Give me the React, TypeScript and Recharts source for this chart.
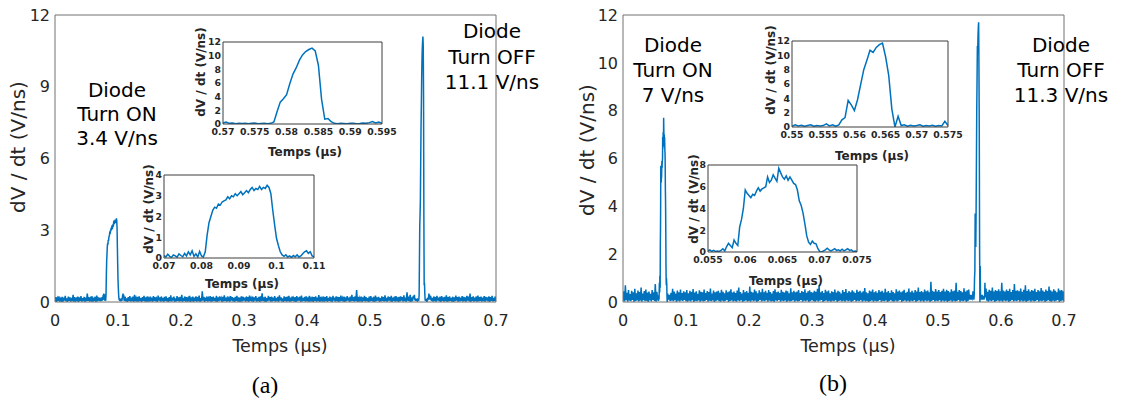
import React from "react";
import { LineChart, Line, XAxis, YAxis } from "recharts";

const BLUE = "#0072BD";
const TEXT = "#262626";

// main traces: noise floor sampled every 1.25 ns (µs units)
const MAIN_STEP = 0.00125;

const NOISE_A = [
  0.03, 0.2, 0.01, 0.16, 0.05, 0.24, 0.02, 0.13, 0.04, 0.21, 0.0, 0.18, 0.06, 0.26, 0.03, 0.15, 0.01, 0.22, 0.05, 0.19,
  0.02, 0.17, 0.04, 0.3, 0.01, 0.2, 0.06, 0.14, 0.03, 0.23, 0.0, 0.19, 0.05, 0.25, 0.02, 0.16, 0.04, 0.21, 0.01, 0.18,
  0.03, 0.35, 0.05, 0.2, 0.02, 0.15, 0.06, 0.24, 0.01, 0.18, 0.04, 0.22, 0.0, 0.27, 0.03, 0.16, 0.05, 0.2, 0.02, 0.23,
  0.04, 0.19, 0.01, 0.25, 0.03, 0.17, 0.05, 0.21, 0.02, 0.14, 0.04, 0.26, 0.0, 0.2, 0.06, 0.18, 0.03, 0.22, 0.01, 0.24,
  0.05, 0.16, 0.02, 0.21, 0.04, 0.27, 0.01, 0.19, 0.06, 0.23, 0.03, 0.15, 0.0, 0.2, 0.05, 0.25, 0.02, 0.18, 0.04, 0.22,
  0.01, 0.3, 0.03, 0.17, 0.06, 0.21, 0.02, 0.24, 0.04, 0.16, 0.0, 0.2, 0.05, 0.26, 0.03, 0.19, 0.01, 0.23, 0.06, 0.15,
  0.02, 0.22, 0.04, 0.18, 0.01, 0.25, 0.05, 0.2, 0.03, 0.14, 0.0, 0.27, 0.06, 0.19, 0.02, 0.23, 0.04, 0.17, 0.01, 0.21,
  0.05, 0.24, 0.03, 0.16, 0.0, 0.2, 0.04, 0.28, 0.02, 0.18, 0.06, 0.22, 0.01, 0.15, 0.03, 0.25, 0.05, 0.19, 0.02, 0.21,
  0.04, 0.3, 0.01, 0.17, 0.05, 0.23, 0.02, 0.2, 0.06, 0.16, 0.03, 0.26, 0.0, 0.19, 0.04, 0.22, 0.01, 0.18, 0.05, 0.24,
  0.02, 0.2, 0.04, 0.27, 0.01, 0.16, 0.03, 0.45, 0.06, 0.21, 0.0, 0.18, 0.05, 0.23, 0.02, 0.15, 0.04, 0.25, 0.01, 0.2,
  0.03, 0.22, 0.05, 0.17, 0.02, 0.26, 0.0, 0.19, 0.04, 0.24, 0.06, 0.16, 0.01, 0.21, 0.03, 0.28, 0.05, 0.18, 0.02, 0.23,
  0.04, 0.15, 0.01, 0.25, 0.06, 0.2, 0.03, 0.17, 0.0, 0.22, 0.05, 0.26, 0.02, 0.19, 0.04, 0.14, 0.01, 0.24, 0.03, 0.21,
  0.06, 0.18, 0.02, 0.23, 0.04, 0.2, 0.0, 0.27, 0.05, 0.16, 0.03, 0.22, 0.01, 0.19, 0.06, 0.25, 0.02, 0.17, 0.04, 0.21,
  0.01, 0.24, 0.03, 0.36, 0.05, 0.19, 0.02, 0.22, 0.0, 0.16, 0.04, 0.26, 0.06, 0.2, 0.01, 0.23, 0.03, 0.18, 0.05, 0.25,
  0.02, 0.17, 0.04, 0.21, 0.01, 0.28, 0.06, 0.19, 0.03, 0.15, 0.0, 0.24, 0.05, 0.2, 0.02, 0.22, 0.04, 0.26, 0.01, 0.18,
  0.03, 0.23, 0.05, 0.16, 0.02, 0.2, 0.0, 0.25, 0.04, 0.19, 0.06, 0.22, 0.01, 0.27, 0.03, 0.17, 0.05, 0.21, 0.02, 0.24,
  0.04, 0.19, 0.01, 0.26, 0.06, 0.15, 0.03, 0.22, 0.0, 0.2, 0.05, 0.24, 0.02, 0.18, 0.04, 0.29, 0.01, 0.21, 0.03, 0.16,
  0.06, 0.23, 0.02, 0.2, 0.04, 0.25, 0.01, 0.17, 0.05, 0.22, 0.03, 0.19, 0.0, 0.26, 0.06, 0.18, 0.02, 0.24, 0.04, 0.21,
  0.01, 0.2, 0.03, 0.27, 0.05, 0.16, 0.02, 0.23, 0.0, 0.19, 0.04, 0.25, 0.06, 0.18, 0.01, 0.22, 0.03, 0.3, 0.05, 0.2,
  0.02, 0.24, 0.04, 0.5, 0.01, 0.21, 0.06, 0.17, 0.03, 0.23, 0.0, 0.19, 0.05, 0.26, 0.02, 0.2, 0.04, 0.16, 0.01, 0.22,
  0.03, 0.25, 0.05, 0.18, 0.02, 0.22, 0.0, 0.27, 0.04, 0.19, 0.06, 0.21, 0.01, 0.16, 0.03, 0.24, 0.05, 0.2, 0.02, 0.28,
  0.04, 0.17, 0.01, 0.23, 0.06, 0.2, 0.03, 0.26, 0.0, 0.18, 0.05, 0.22, 0.02, 0.25, 0.04, 0.19, 0.01, 0.21, 0.03, 0.24,
  0.06, 0.2, 0.02, 0.28, 0.04, 0.18, 0.01, 0.4, 0.05, 0.22, 0.03, 0.3, 0.0, 0.19, 0.04, 0.26, 0.02, 0.21, 0.06, 0.23,
  0.01, 0.25, 0.03, 0.19, 0.05, 0.22, 0.02, 0.27, 0.0, 0.2, 0.04, 0.18, 0.06, 0.24, 0.01, 0.21, 0.03, 0.26, 0.05, 0.17,
  0.02, 0.23, 0.04, 0.2, 0.01, 0.26, 0.06, 0.18, 0.03, 0.22, 0.0, 0.25, 0.05, 0.19, 0.02, 0.21, 0.04, 0.28, 0.01, 0.2,
  0.03, 0.24, 0.05, 0.17, 0.02, 0.22, 0.0, 0.19, 0.04, 0.27, 0.06, 0.2, 0.01, 0.23, 0.03, 0.18, 0.05, 0.25, 0.02, 0.21,
  0.04, 0.19, 0.01, 0.26, 0.06, 0.22, 0.03, 0.35, 0.0, 0.2, 0.05, 0.24, 0.02, 0.18, 0.04, 0.23, 0.01, 0.27, 0.03, 0.2,
  0.05, 0.22, 0.02, 0.18, 0.04, 0.25, 0.01, 0.21, 0.06, 0.19, 0.03, 0.24, 0.0, 0.2, 0.05, 0.26, 0.02, 0.17, 0.04, 0.23,
  0.03,
];

const NOISE_B = [
  0.05, 0.45, 0.02, 0.7, 0.08, 0.38, 0.01, 0.5, 0.06, 0.33, 0.03, 0.47, 0.09, 0.4, 0.0, 0.55, 0.04, 0.36, 0.07, 0.48,
  0.02, 0.42, 0.06, 0.6, 0.01, 0.35, 0.08, 0.46, 0.03, 0.52, 0.05, 0.39, 0.0, 0.44, 0.07, 0.34, 0.02, 0.5, 0.09, 0.41,
  0.04, 0.75, 0.01, 0.43, 0.06, 0.37, 0.03, 0.49, 0.08, 0.4, 0.0, 0.53, 0.05, 0.36, 0.02, 0.46, 0.07, 0.42, 0.04, 0.5,
  0.01, 0.38, 0.06, 0.55, 0.03, 0.44, 0.08, 0.35, 0.0, 0.48, 0.05, 0.41, 0.02, 0.52, 0.07, 0.37, 0.04, 0.45, 0.09, 0.4,
  0.03, 0.5, 0.01, 0.36, 0.06, 0.47, 0.02, 0.42, 0.08, 0.54, 0.0, 0.39, 0.05, 0.45, 0.03, 0.34, 0.07, 0.49, 0.01, 0.43,
  0.06, 0.4, 0.02, 0.52, 0.04, 0.37, 0.09, 0.46, 0.01, 0.42, 0.05, 0.56, 0.03, 0.35, 0.07, 0.48, 0.0, 0.41, 0.04, 0.44,
  0.08, 0.47, 0.03, 0.38, 0.01, 0.51, 0.06, 0.43, 0.02, 0.36, 0.05, 0.49, 0.09, 0.4, 0.0, 0.45, 0.04, 0.53, 0.07, 0.39,
  0.02, 0.44, 0.05, 0.37, 0.01, 0.48, 0.06, 0.6, 0.03, 0.42, 0.08, 0.35, 0.0, 0.5, 0.04, 0.41, 0.07, 0.46, 0.02, 0.38,
  0.05, 0.65, 0.01, 0.43, 0.07, 0.39, 0.03, 0.52, 0.06, 0.45, 0.0, 0.36, 0.04, 0.49, 0.09, 0.41, 0.02, 0.55, 0.05, 0.4,
  0.03, 0.47, 0.08, 0.38, 0.01, 0.5, 0.06, 0.42, 0.02, 0.35, 0.05, 0.46, 0.0, 0.53, 0.07, 0.4, 0.04, 0.44, 0.09, 0.37,
  0.01, 0.51, 0.05, 0.43, 0.03, 0.39, 0.07, 0.48, 0.0, 0.45, 0.06, 0.36, 0.02, 0.57, 0.04, 0.41, 0.08, 0.47, 0.01, 0.4,
  0.06, 0.44, 0.02, 0.5, 0.04, 0.37, 0.09, 0.46, 0.01, 0.42, 0.05, 0.53, 0.03, 0.38, 0.07, 0.45, 0.0, 0.49, 0.04, 0.41,
  0.08, 0.39, 0.03, 0.47, 0.01, 0.43, 0.06, 0.55, 0.02, 0.7, 0.05, 0.4, 0.09, 0.46, 0.0, 0.37, 0.04, 0.51, 0.07, 0.44,
  0.02, 0.48, 0.05, 0.36, 0.01, 0.45, 0.06, 0.41, 0.03, 0.52, 0.08, 0.39, 0.0, 0.47, 0.04, 0.43, 0.07, 0.35, 0.02, 0.5,
  0.05, 0.42, 0.01, 0.54, 0.07, 0.38, 0.03, 0.46, 0.06, 0.4, 0.0, 0.49, 0.04, 0.44, 0.09, 0.37, 0.02, 0.51, 0.05, 0.43,
  0.03, 0.47, 0.08, 0.39, 0.01, 0.45, 0.06, 0.58, 0.02, 0.41, 0.05, 0.36, 0.0, 0.48, 0.04, 0.44, 0.07, 0.52, 0.01, 0.4,
  0.06, 0.45, 0.02, 0.38, 0.04, 0.5, 0.09, 0.43, 0.01, 0.47, 0.05, 0.39, 0.03, 0.55, 0.07, 0.41, 0.0, 0.46, 0.04, 0.37,
  0.08, 0.49, 0.03, 0.42, 0.01, 0.36, 0.06, 0.53, 0.02, 0.44, 0.05, 0.48, 0.09, 0.4, 0.0, 0.45, 0.04, 0.51, 0.07, 0.38,
  0.02, 0.43, 0.05, 0.56, 0.01, 0.41, 0.06, 0.47, 0.03, 0.39, 0.08, 0.5, 0.0, 0.44, 0.04, 0.6, 0.07, 0.42, 0.02, 0.46,
  0.05, 0.4, 0.01, 0.52, 0.07, 0.45, 0.03, 0.48, 0.06, 0.41, 0.0, 0.85, 0.04, 0.47, 0.09, 0.43, 0.02, 0.54, 0.05, 0.44,
  0.03, 0.5, 0.08, 0.42, 0.01, 0.47, 0.06, 0.55, 0.02, 0.44, 0.05, 0.51, 0.0, 0.46, 0.04, 0.4, 0.07, 0.53, 0.01, 0.45,
  0.06, 0.48, 0.02, 0.8, 0.04, 0.43, 0.09, 0.5, 0.01, 0.46, 0.05, 0.41, 0.03, 0.57, 0.07, 0.44, 0.0, 0.49, 0.04, 0.52,
  0.08, 0.45, 0.03, 0.5, 0.01, 0.42, 0.06, 0.55, 0.02, 0.47, 0.05, 0.4, 0.09, 0.52, 0.0, 0.44, 0.04, 0.49, 0.07, 0.46,
  0.02, 0.56, 0.05, 0.43, 0.01, 0.51, 0.06, 0.47, 0.03, 0.6, 0.08, 0.44, 0.0, 0.5, 0.04, 0.46, 0.07, 0.53, 0.02, 0.45,
  0.05, 0.8, 0.01, 0.48, 0.07, 0.44, 0.03, 0.52, 0.06, 0.46, 0.0, 0.55, 0.04, 0.42, 0.09, 0.5, 0.02, 0.75, 0.05, 0.47,
  0.03, 0.49, 0.08, 0.45, 0.01, 0.56, 0.06, 0.43, 0.02, 0.51, 0.05, 0.7, 0.0, 0.46, 0.04, 0.53, 0.07, 0.44, 0.01, 0.5,
  0.06, 0.47, 0.02, 0.55, 0.04, 0.42, 0.09, 0.5, 0.01, 0.45, 0.05, 0.58, 0.03, 0.48, 0.07, 0.43, 0.0, 0.52, 0.04, 0.46,
  0.08, 0.65, 0.03, 0.49, 0.01, 0.44, 0.06, 0.53, 0.02, 0.47, 0.05, 0.41, 0.09, 0.56, 0.0, 0.48, 0.04, 0.5, 0.07, 0.45,
  0.03,
];

// (a) turn ON, 0.07 -> 0.11 µs
const ON_A_START = 0.07;
const ON_A_STEP = 0.0005;
const ON_A = [
  0.12, 0.05, 0.18, 0.08, 0.03, 0.15, 0.1, 0.04, 0.2, 0.12, 0.06, 0.22, 0.1, 0.3, 0.15, 0.35, 0.08, 0.2, 0.05, 0.32,
  0.1, 0.05, 0.3, 1.1, 1.7, 2.0, 2.3, 2.45, 2.4, 2.6, 2.55, 2.7, 2.75, 2.8, 2.95, 2.85, 3.0, 2.95, 3.1, 3.0,
  3.1, 3.2, 3.05, 3.15, 3.25, 3.15, 3.3, 3.4, 3.25, 3.35, 3.3, 3.45, 3.3, 3.4, 3.35, 3.5, 3.4, 3.1, 2.3, 1.6,
  0.95, 0.6, 0.3, 0.15, 0.08, 0.15, 0.05, 0.1, 0.03, 0.12, 0.06, 0.15, 0.05, 0.1, 0.2, 0.3, 0.35, 0.22, 0.3, 0.1,
  0.05,
];

// (a) turn OFF, 0.57 -> 0.595 µs
const OFF_A_START = 0.57;
const OFF_A_STEP = 0.0005;
const OFF_A = [
  0.15, 0.3, 0.1, 0.15, 0.05, 0.1, 0.08, 0.12, 0.05, 0.1, 0.15, 0.05, 0.08, 0.12, 0.05, 0.1, 0.3, 1.8, 3.2, 3.7,
  4.3, 5.9, 7.3, 8.2, 9.3, 10.1, 10.6, 10.9, 11.1, 10.7, 8.6, 3.6, 0.7, 0.8, 0.35, 0.1, 0.05, 0.12, 0.08, 0.05,
  0.1, 0.12, 0.05, 0.08, 0.15, 0.1, 0.2, 0.35, 0.15, 0.3, 0.1,
];

// (b) turn ON, 0.055 -> 0.075 µs
const ON_B_START = 0.055;
const ON_B_STEP = 0.00025;
const ON_B = [
  0.1, 0.2, 0.05, 0.15, 0.05, 0.1, 0.05, 0.15, 0.3, 0.1, 0.5, 0.8, 0.6, 0.4, 1.1, 0.8, 0.6, 2.3, 3.0, 4.0,
  5.7, 5.4, 5.2, 5.0, 5.3, 5.2, 5.6, 5.9, 5.6, 5.8, 5.9, 6.0, 6.9, 6.4, 6.6, 7.1, 6.8, 6.5, 7.7, 7.3,
  6.9, 6.7, 7.0, 6.6, 6.9, 6.6, 6.3, 6.2, 5.7, 4.7, 4.3, 3.6, 2.6, 1.5, 0.9, 0.7, 1.0, 0.8, 0.75, 0.3,
  0.05, 0.0, 0.1, 0.2, 0.35, 0.2, 0.1, 0.2, 0.3, 0.15, 0.2, 0.1, 0.25, 0.1, 0.2, 0.3, 0.15, 0.2, 0.05, 0.1,
  0.05,
];

// (b) turn OFF, 0.55 -> 0.575 µs
const OFF_B_START = 0.55;
const OFF_B_STEP = 0.0005;
const OFF_B = [
  0.1, 0.3, 0.15, 0.25, 0.1, 0.2, 0.3, 0.1, 0.2, 0.15, 0.2, 0.45, 0.15, 0.3, 0.1, 0.3, 1.0, 1.3, 3.7, 3.1,
  2.3, 3.8, 5.9, 8.0, 9.3, 10.7, 10.4, 11.1, 11.5, 11.7, 9.8, 7.2, 2.5, 0.0, 1.5, 0.2, 0.3, 0.1, 0.25, 0.15,
  0.2, 0.3, 0.1, 0.2, 0.15, 0.25, 0.1, 0.2, 0.15, 0.8, 0.2,
];

const X_TICKS_MAIN = [0, 0.1, 0.2, 0.3, 0.4, 0.5, 0.6, 0.7];
const Y_TICKS_A = [0, 3, 6, 9, 12];
const Y_TICKS_B = [0, 2, 4, 6, 8, 10, 12];
const X_TICKS_ON_A = [0.07, 0.08, 0.09, 0.1, 0.11];
const Y_TICKS_ON_A = [0, 1, 2, 3, 4];
const X_TICKS_OFF_A = [0.57, 0.575, 0.58, 0.585, 0.59, 0.595];
const X_TICKS_ON_B = [0.055, 0.06, 0.065, 0.07, 0.075];
const Y_TICKS_ON_B = [0, 2, 4, 6, 8];
const X_TICKS_OFF_B = [0.55, 0.555, 0.56, 0.565, 0.57, 0.575];
const Y_TICKS_OFF = [0, 2, 4, 6, 8, 10, 12];

const NOTE_A_ON = ["Diode", "Turn ON", "3.4 V/ns"];
const NOTE_A_OFF = ["Diode", "Turn OFF", "11.1 V/ns"];
const NOTE_B_ON = ["Diode", "Turn ON", "7 V/ns"];
const NOTE_B_OFF = ["Diode", "Turn OFF", "11.3 V/ns"];

type Pt = { t: number; v: number };

const sampled = (start: number, step: number, values: number[]): Pt[] =>
  values.map((v, i) => ({ t: +(start + i * step).toFixed(6), v }));

// noise floor everywhere, except where the zoomed captures give the detail
const mainTrace = (noise: number[], zooms: Pt[][]): Pt[] => {
  const floor = sampled(0, MAIN_STEP, noise).filter(
    (p) => !zooms.some((z) => p.t >= z[0].t && p.t <= z[z.length - 1].t)
  );
  return [...floor, ...zooms.flat()].sort((a, b) => a.t - b.t);
};

const onA = sampled(ON_A_START, ON_A_STEP, ON_A);
const offA = sampled(OFF_A_START, OFF_A_STEP, OFF_A);
const onB = sampled(ON_B_START, ON_B_STEP, ON_B);
const offB = sampled(OFF_B_START, OFF_B_STEP, OFF_B);
const mainA = mainTrace(NOISE_A, [onA, offA]);
const mainB = mainTrace(NOISE_B, [onB, offB]);

type PlotProps = {
  left: number;
  top: number;
  width: number;
  height: number;
  data: Pt[];
  xTicks: number[];
  yTicks: number[];
  inset?: boolean;
};

function Plot({ left, top, width, height, data, xTicks, yTicks, inset }: PlotProps) {
  const padL = inset ? 22 : 45;
  const padB = inset ? 16 : 32;
  const padT = 10;
  const padR = 18;
  const box = inset ? "#3c3c3c" : "#707070";
  const tickLen = inset ? 3 : 5;
  const tick = {
    fill: TEXT,
    fontSize: inset ? 9.3 : 16,
    fontFamily: "DejaVu Sans",
    fontWeight: inset ? 700 : 400,
  };
  const xDomain = [xTicks[0], xTicks[xTicks.length - 1]];
  const yDomain = [yTicks[0], yTicks[yTicks.length - 1]];
  const line = { stroke: box };

  return (
    <div style={{ position: "absolute", left: left - padL, top: top - padT }}>
      <LineChart
        width={width + padL + padR}
        height={height + padT + padB}
        data={data}
        margin={{ top: padT, right: padR, bottom: 0, left: 0 }}
      >
        <XAxis
          dataKey="t"
          type="number"
          domain={xDomain}
          ticks={xTicks}
          interval={0}
          allowDataOverflow
          height={padB}
          tickSize={0}
          tickMargin={inset ? 4 : 13}
          tickLine={false}
          axisLine={line}
          tick={tick}
        />
        <XAxis xAxisId="bin" type="number" domain={xDomain} ticks={xTicks} interval={0} allowDataOverflow
          mirror tick={false} tickSize={tickLen} axisLine={false} tickLine={line} />
        <XAxis xAxisId="top" orientation="top" type="number" domain={xDomain} ticks={xTicks} interval={0}
          allowDataOverflow mirror tick={false} tickSize={tickLen} axisLine={line} tickLine={line} />
        <YAxis
          type="number"
          domain={yDomain}
          ticks={yTicks}
          interval={0}
          allowDataOverflow
          width={padL}
          tickSize={0}
          tickMargin={inset ? 2 : 5}
          tickLine={false}
          axisLine={line}
          tick={tick}
        />
        <YAxis yAxisId="lin" type="number" domain={yDomain} ticks={yTicks} interval={0} allowDataOverflow
          mirror tick={false} tickSize={tickLen} axisLine={false} tickLine={line} />
        <YAxis yAxisId="right" orientation="right" type="number" domain={yDomain} ticks={yTicks} interval={0}
          allowDataOverflow mirror tick={false} tickSize={tickLen} axisLine={line} tickLine={line} />
        <Line
          dataKey="v"
          type="linear"
          stroke={BLUE}
          strokeWidth={1.5}
          dot={false}
          isAnimationActive={false}
        />
      </LineChart>
    </div>
  );
}

type TxtProps = {
  x: number;
  y: number;
  size: number;
  children: React.ReactNode;
  rotate?: boolean;
  bold?: boolean;
  serif?: boolean;
  color?: string;
};

function Txt({ x, y, size, children, rotate, bold, serif, color }: TxtProps) {
  return (
    <div
      style={{
        position: "absolute",
        left: x,
        top: y,
        transform: `translate(-50%, -50%)${rotate ? " rotate(-90deg)" : ""}`,
        fontSize: size,
        fontFamily: serif ? "Liberation Serif" : "DejaVu Sans",
        fontWeight: bold ? 700 : 400,
        color: color ?? TEXT,
        whiteSpace: "nowrap",
        lineHeight: 1,
      }}
    >
      {children}
    </div>
  );
}

function Note({ x, y, gap, lines }: { x: number; y: number; gap: number; lines: string[] }) {
  return (
    <>
      {lines.map((s, i) => (
        <Txt key={s} x={x} y={y + i * gap} size={20} color="#000">
          {s}
        </Txt>
      ))}
    </>
  );
}

export default function App() {
  return (
    <div style={{ position: "absolute", left: 0, top: 0, width: 1121, height: 402, background: "#fff", overflow: "hidden" }}>
      {/* (a) */}
      <Plot left={55} top={15} width={441} height={287} data={mainA} xTicks={X_TICKS_MAIN} yTicks={Y_TICKS_A} />
      <Plot left={223} top={42} width={159} height={82} data={offA} xTicks={X_TICKS_OFF_A} yTicks={Y_TICKS_OFF} inset />
      <Plot left={164} top={175} width={150} height={83} data={onA} xTicks={X_TICKS_ON_A} yTicks={Y_TICKS_ON_A} inset />
      <Txt x={18} y={147} size={20} rotate>dV / dt (V/ns)</Txt>
      <Txt x={280} y={347} size={17.5}>Temps (µs)</Txt>
      <Txt x={201} y={72} size={12} rotate bold>dV / dt (V/ns)</Txt>
      <Txt x={305} y={152} size={12} bold>Temps (µs)</Txt>
      <Txt x={149} y={209} size={12} rotate bold>dV / dt (V/ns)</Txt>
      <Txt x={242} y={284} size={12} bold>Temps (µs)</Txt>
      <Note x={117} y={90} gap={24} lines={NOTE_A_ON} />
      <Note x={492} y={31} gap={25.5} lines={NOTE_A_OFF} />
      <Txt x={265} y={385} size={24} serif color="#000">(a)</Txt>

      {/* (b) */}
      <Plot left={623} top={15} width={441} height={287} data={mainB} xTicks={X_TICKS_MAIN} yTicks={Y_TICKS_B} />
      <Plot left={792} top={41} width={156} height={86} data={offB} xTicks={X_TICKS_OFF_B} yTicks={Y_TICKS_OFF} inset />
      <Plot left={708} top={165} width={149} height={87} data={onB} xTicks={X_TICKS_ON_B} yTicks={Y_TICKS_ON_B} inset />
      <Txt x={587} y={150} size={20} rotate>dV / dt (V/ns)</Txt>
      <Txt x={848} y={347} size={17.5}>Temps (µs)</Txt>
      <Txt x={771} y={70} size={12} rotate bold>dV / dt (V/ns)</Txt>
      <Txt x={872} y={156} size={12} bold>Temps (µs)</Txt>
      <Txt x={694} y={199} size={12} rotate bold>dV / dt (V/ns)</Txt>
      <Txt x={786} y={281} size={12} bold>Temps (µs)</Txt>
      <Note x={673} y={45} gap={25} lines={NOTE_B_ON} />
      <Note x={1061} y={45} gap={25} lines={NOTE_B_OFF} />
      <Txt x={833} y={383} size={24} serif color="#000">(b)</Txt>
    </div>
  );
}
